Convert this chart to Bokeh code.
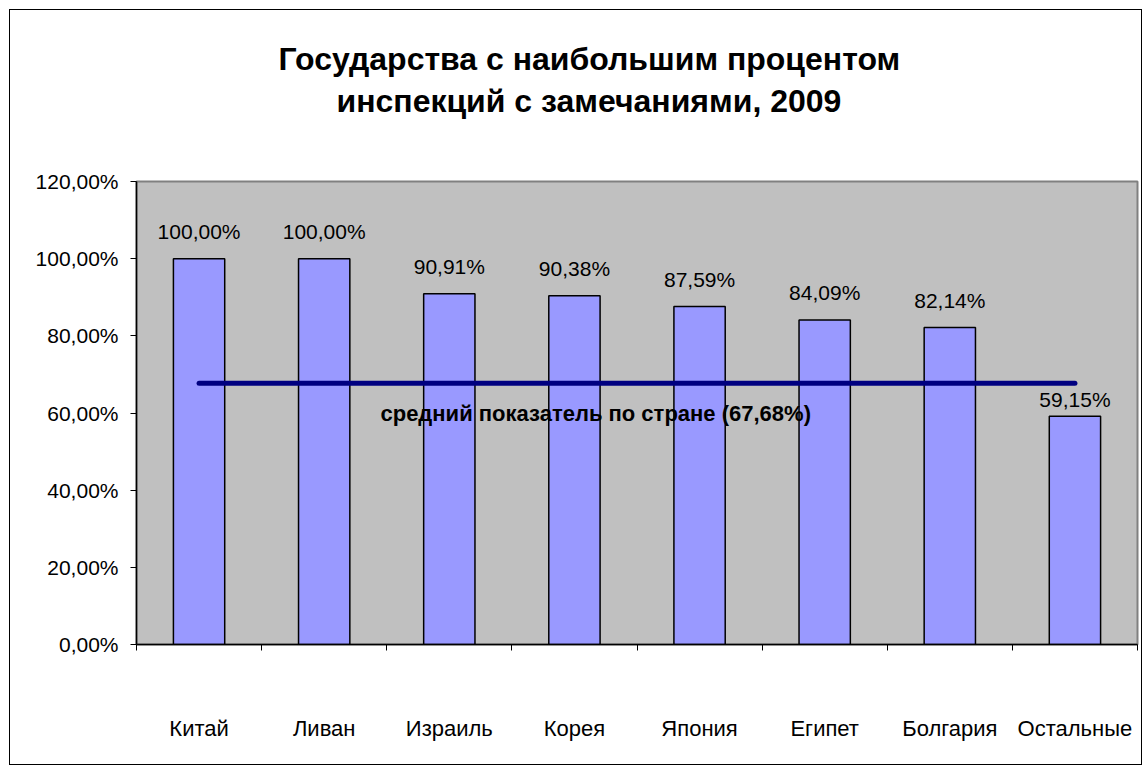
from bokeh.plotting import figure
from bokeh.models import Range1d, FixedTicker, Label, ColumnDataSource, Title
from bokeh.core.properties import value
from bokeh.embed import file_html
from bokeh.resources import INLINE

categories = ["Китай", "Ливан", "Израиль", "Корея", "Япония", "Египет", "Болгария", "Остальные"]
values = [100.00, 100.00, 90.91, 90.38, 87.59, 84.09, 82.14, 59.15]
average = 67.68
y_ticks = [0, 20, 40, 60, 80, 100, 120]
title_lines = ["Государства с наибольшим процентом", "инспекций с замечаниями, 2009"]
avg_text = "средний показатель по стране (67,68%)"

def fmt(v):
    return ("%.2f" % v).replace(".", ",") + "%"

FONT = "Liberation Sans"

p = figure(width=1133, height=756, output_backend="svg", toolbar_location=None,
           x_range=Range1d(0, len(categories)), y_range=Range1d(0, 120),
           min_border_left=126, min_border_top=171, min_border_right=6, min_border_bottom=122,
           margin=(9, 0, 0, 9))

def style_title(t, offset, standoff, size="32px"):
    t.align = "left"
    t.offset = offset
    t.standoff = standoff
    t.text_font = FONT
    t.text_font_size = size
    t.text_font_style = "bold"
    t.text_color = "black"

# title: first line is outermost (p.title), second line and a spacer below it
p.title.text = title_lines[0]
style_title(p.title, 142, 4)
spacer = Title(text=" ")
style_title(spacer, 0, 26, "30px")
line2 = Title(text=title_lines[1])
style_title(line2, 200, 4)
p.add_layout(spacer, "above")
p.add_layout(line2, "above")

p.styles = {"border": "1px solid black", "box-sizing": "border-box"}
p.background_fill_color = "#C0C0C0"
p.border_fill_color = "white"
p.outline_line_color = "#808080"
p.outline_line_width = 2
p.xgrid.visible = False
p.ygrid.visible = False

xs = [i + 0.5 for i in range(len(categories))]
# label lift above bar top (px); the last label sits lower, as in the original
label_dy = [-16, -16, -16, -16, -16, -16, -16, -5]
src = ColumnDataSource(dict(x=xs, top=values, lab=[fmt(v) for v in values], dy=label_dy))
p.vbar(x="x", top="top", bottom=0, width=0.41, source=src,
       fill_color="#9999FF", line_color="black", line_width=1.5)

p.text(x="x", y="top", text="lab", source=src, text_align="center", text_baseline="bottom",
       y_offset="dy", text_font=value(FONT), text_font_size="21px", text_color="black")

p.line(x=[xs[0], xs[-1]], y=[average, average], line_color="#000080", line_width=5,
       line_cap="round")
p.add_layout(Label(x=3.67, y=average, y_offset=-30, text=avg_text, text_align="center",
                   text_baseline="middle", text_font=FONT, text_font_size="22px",
                   text_font_style="bold", text_color="black"))

# x axis
xa = p.xaxis[0]
xa.ticker = FixedTicker(ticks=xs, minor_ticks=list(range(len(categories) + 1)))
xa.major_label_overrides = {x: c for x, c in zip(xs, categories)}
xa.major_tick_line_color = None
xa.minor_tick_line_color = "black"
xa.minor_tick_out = 6
xa.minor_tick_in = 0
xa.axis_line_color = "black"
xa.axis_line_width = 1.5
xa.major_label_standoff = 65
xa.major_label_text_font = FONT
xa.major_label_text_font_size = "22px"
xa.major_label_text_color = "black"

ya = p.yaxis[0]
ya.ticker = FixedTicker(ticks=y_ticks, minor_ticks=[])
ya.major_label_overrides = {t: fmt(t) for t in y_ticks}
ya.major_tick_out = 6
ya.major_tick_in = 0
ya.major_tick_line_color = "black"
ya.minor_tick_line_color = None
ya.axis_line_color = "black"
ya.axis_line_width = 1.5
ya.major_label_standoff = 12
ya.major_label_text_font = FONT
ya.major_label_text_font_size = "21px"
ya.major_label_text_color = "black"

open("out.html", "w").write(file_html(p, INLINE))
